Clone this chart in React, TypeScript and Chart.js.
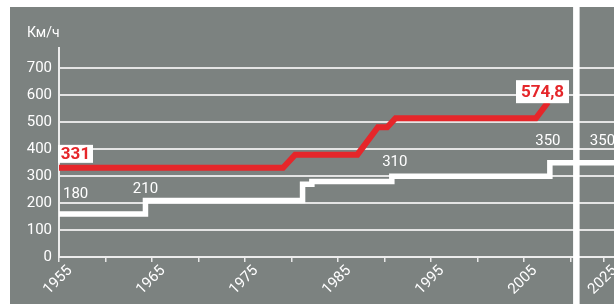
import { useEffect, useRef } from 'react';
import { Chart, registerables } from 'chart.js';

Chart.register(...registerables);

// Record speed (red), years and km/h
const recordYears = [1955, 1979.1, 1980.4, 1987.1, 1989.3, 1990.3, 1991.2, 2006.3, 2007.6];
const recordSpeeds = [331, 331, 380, 380, 482, 482, 515, 515, 574.8];

// Commercial speed (white), stepped
const serviceYears = [1955, 1964.3, 1964.3, 1981.2, 1981.2, 1982.2, 1982.2, 1990.8, 1990.8, 2007.8, 2007.8, 2014.7];
const serviceSpeeds = [160, 160, 210, 210, 270, 270, 280, 280, 300, 300, 350, 350];

// Axis ticks
const yTickValues = [0, 100, 200, 300, 400, 500, 600, 700];
const xTickYears = [1955, 1960, 1965, 1970, 1975, 1980, 1985, 1990, 1995, 2000, 2005, 2010];
const xLabelYears = [1955, 1965, 1975, 1985, 1995, 2005];
const afterBreakTickPos = 2013.6;
const afterBreakTickLabel = '2025';
const breakStart = 2010.3;
const breakEnd = 2011.0;

// Annotations: text, anchor year, anchor value
const recordLabelTexts = ['331', '574,8'];
const recordLabelYears = [1955, 2007.6];
const recordLabelValues = [331, 574.8];
const serviceLabelTexts = ['180', '210', '310', '350', '350'];
const serviceLabelYears = [1955, 1964.3, 1990.8, 2007.8, afterBreakTickPos];
const serviceLabelValues = [160, 210, 300, 350, 350];

const unitLabel = 'Км/ч';

const BG = '#7c8280';
const RED = '#e5262a';
const FONT = 'Roboto, "Noto Sans", sans-serif';

export default function App() {
  const ref = useRef<HTMLCanvasElement>(null);

  useEffect(() => {
    if (!ref.current) return;

    const decor = {
      id: 'decor',
      beforeDraw(chart: any) {
        const { ctx, width, height } = chart;
        ctx.save();
        ctx.fillStyle = '#ffffff';
        ctx.fillRect(0, 0, width, height);
        ctx.fillStyle = BG;
        ctx.fillRect(10, 7, width - 10, height - 7);
        ctx.restore();
      },
      afterDraw(chart: any) {
        const { ctx, height } = chart;
        const xs = chart.scales.x;
        const ys = chart.scales.y;
        ctx.save();
        // scale break band
        const bx0 = xs.getPixelForValue(breakStart);
        const bx1 = xs.getPixelForValue(breakEnd);
        ctx.fillStyle = '#ffffff';
        ctx.fillRect(bx0, 0, bx1 - bx0, height);

        // unit label
        ctx.fillStyle = '#ffffff';
        ctx.font = `14px ${FONT}`;
        ctx.textAlign = 'left';
        ctx.textBaseline = 'middle';
        ctx.fillText(unitLabel, 27, 33);

        // service labels (white text)
        const sOff = [
          [4, -20, 'left'],
          [0, -11, 'center'],
          [3, -14, 'center'],
          [-2, -21, 'center'],
          [-14, -21, 'left'],
        ];
        ctx.font = `15px ${FONT}`;
        serviceLabelTexts.forEach((t, i) => {
          const px = xs.getPixelForValue(serviceLabelYears[i]) + (sOff[i][0] as number);
          const py = ys.getPixelForValue(serviceLabelValues[i]) + (sOff[i][1] as number);
          ctx.textAlign = sOff[i][2] as CanvasTextAlign;
          ctx.fillStyle = '#ffffff';
          ctx.fillText(t, px, py);
        });

        // record labels (red bold on white box)
        const rBox = [
          [-1, -23, 35, 18],
          [-32, -22, 53, 23],
        ];
        ctx.font = `bold 17px ${FONT}`;
        recordLabelTexts.forEach((t, i) => {
          const ax = xs.getPixelForValue(recordLabelYears[i]);
          const ay = ys.getPixelForValue(recordLabelValues[i]);
          const [dx, dy, w, h] = rBox[i];
          ctx.fillStyle = '#ffffff';
          ctx.fillRect(ax + dx, ay + dy, w, h);
          ctx.fillStyle = RED;
          ctx.textAlign = 'center';
          ctx.textBaseline = 'middle';
          ctx.fillText(t, ax + dx + w / 2, ay + dy + h / 2 + 1);
        });
        ctx.restore();
      },
    };

    const chart = new Chart(ref.current, {
      type: 'line',
      data: {
        datasets: [
          {
            label: 'record',
            data: recordYears.map((x, i) => ({ x, y: recordSpeeds[i] })),
            borderColor: RED,
            borderWidth: 6,
            pointRadius: 0,
            tension: 0,
            borderJoinStyle: 'miter',
          },
          {
            label: 'service',
            data: serviceYears.map((x, i) => ({ x, y: serviceSpeeds[i] })),
            borderColor: '#ffffff',
            borderWidth: 5.5,
            pointRadius: 0,
            tension: 0,
            borderJoinStyle: 'miter',
          },
        ],
      },
      options: {
        responsive: false,
        animation: false,
        layout: { padding: { top: 48, left: 0, right: 0, bottom: 0 } },
        plugins: { legend: { display: false }, tooltip: { enabled: false } },
        scales: {
          x: {
            type: 'linear',
            min: 1955,
            max: 2014.7,
            afterBuildTicks: (scale: any) => {
              scale.ticks = [...xTickYears, afterBreakTickPos].map((v) => ({ value: v }));
            },
            afterFit: (scale: any) => {
              scale.height = 47;
              scale.paddingLeft = 0;
              scale.paddingRight = 0;
            },
            grid: {
              drawOnChartArea: false,
              drawTicks: true,
              tickLength: 5,
              color: '#e8e8e8',
              lineWidth: 1.5,
            },
            border: { display: true, color: '#ececec', width: 2 },
            ticks: {
              autoSkip: false,
              minRotation: 45,
              maxRotation: 45,
              color: '#ffffff',
              font: { family: FONT, size: 15 },
              padding: 0,
              labelOffset: 11,
              callback: (value: any) => {
                if (value === afterBreakTickPos) return afterBreakTickLabel;
                return xLabelYears.includes(value) ? String(value) : '';
              },
            },
          },
          y: {
            min: 0,
            max: 776,
            afterBuildTicks: (scale: any) => {
              scale.ticks = yTickValues.map((v) => ({ value: v }));
            },
            afterFit: (scale: any) => {
              scale.width = 59;
            },
            grid: { color: '#e4e4e4', lineWidth: 2, drawTicks: false },
            border: { display: true, color: '#ececec', width: 2 },
            ticks: {
              color: '#ffffff',
              font: { family: FONT, size: 15 },
              padding: 7,
            },
          },
        },
      },
      plugins: [decor],
    } as any);

    return () => chart.destroy();
  }, []);

  return (
    <div style={{ position: 'fixed', left: 0, top: 0, width: 614, height: 304 }}>
      <canvas ref={ref} width={614} height={304} style={{ display: 'block' }} />
    </div>
  );
}
